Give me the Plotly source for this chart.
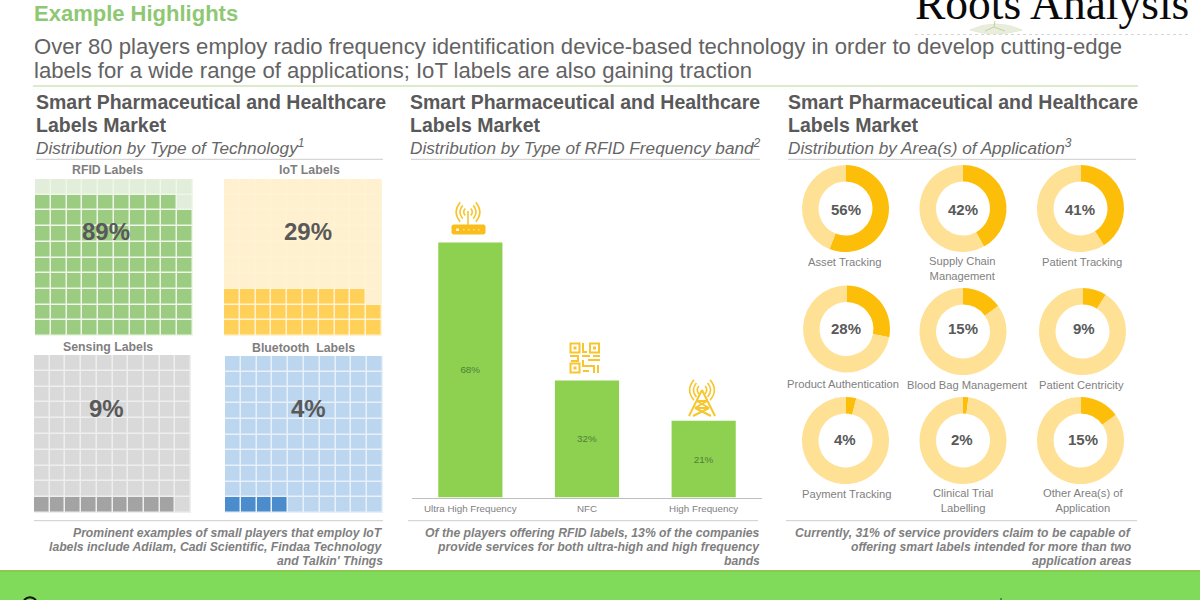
import plotly.graph_objects as go

# ---------- data ----------
waffle_names = ["RFID Labels", "IoT Labels", "Sensing Labels", "Bluetooth  Labels"]
waffle_values = [89, 29, 9, 4]

bar_categories = ["Ultra High Frequency", "NFC", "High Frequency"]
bar_heights = [69.7, 32, 21]
bar_labels = ["68%", "32%", "21%"]

donut_names = ["Asset Tracking", "Supply Chain<br>Management", "Patient Tracking",
               "Product Authentication", "Blood Bag Management", "Patient Centricity",
               "Payment Tracking", "Clinical Trial<br>Labelling", "Other Area(s) of<br>Application"]
donut_values = [56, 42, 41, 28, 15, 9, 4, 2, 15]

heading_lines = ["Smart Pharmaceutical and Healthcare", "Labels Market"]
column_subtitles = ["Distribution by Type of Technology<sup>1</sup>",
                    "Distribution by Type of RFID Frequency band<sup>2</sup>",
                    "Distribution by Area(s) of Application<sup>3</sup>"]
title_text = "Example Highlights"
intro_lines = ["Over 80 players employ radio frequency identification device-based technology in order to develop cutting-edge",
               "labels for a wide range of applications; IoT labels are also gaining traction"]
footnotes = [["Prominent examples of small players that employ IoT",
              "labels include Adilam, Cadi Scientific, Findaa Technology",
              "and Talkin' Things"],
             ["Of the players offering RFID labels, 13% of the companies",
              "provide services for both ultra-high and high frequency",
              "bands"],
             ["Currently, 31% of service providers claim to be capable of",
              "offering smart labels intended for more than two",
              "application areas"]]

# ---------- layout helpers (pixel -> paper) ----------
W, H = 1200, 600
FONT = "Liberation Sans"
GOLD = "#F7C62F"
px = lambda x: x / W
py = lambda y: 1 - y / H
P = lambda x, y: f"{px(x):.5f},{py(y):.5f}"

shapes, annotations = [], []


def txt(x, y, s, size, color="#595959", anchor="left", family=FONT, va="middle"):
    annotations.append(dict(x=px(x), y=py(y), xref="paper", yref="paper", text=s, showarrow=False,
                            xanchor=anchor, yanchor=va, align=anchor, borderpad=0, borderwidth=0,
                            font=dict(family=family, size=size, color=color)))


def line(x0, y0, x1, y1, color, width=1, dash="solid"):
    shapes.append(dict(type="line", xref="paper", yref="paper", x0=px(x0), y0=py(y0), x1=px(x1), y1=py(y1),
                       line=dict(color=color, width=width, dash=dash)))


def rect(x0, y0, x1, y1, color, layer="above", lw=0, fill=True):
    shapes.append(dict(type="rect", xref="paper", yref="paper", x0=px(x0), y0=py(y0), x1=px(x1), y1=py(y1),
                       fillcolor=color if fill else "rgba(0,0,0,0)", layer=layer,
                       line=dict(width=lw, color=color)))


def path(d, stroke=GOLD, width=1.6, fill=None):
    shapes.append(dict(type="path", xref="paper", yref="paper", path=d,
                       fillcolor=fill or "rgba(0,0,0,0)", line=dict(color=stroke, width=width)))


def waves(cx, cy, radii, half=11):
    for r in radii:
        for s in (-1, 1):
            path(f"M{P(cx + s * r * 0.62, cy - r * 0.78)} Q{P(cx + s * r * 1.28, cy)} {P(cx + s * r * 0.62, cy + r * 0.78)}")


fig = go.Figure()

# ---------- waffles ----------
waffle_boxes = [(35, 179, 193, 336), (224, 179, 382, 336), (34, 355, 191, 513), (225, 356, 383, 513)]
waffle_colors = [("#E2EEDA", "#9CCB82", "#EFF7E8"), ("#FFF1CF", "#FFD158", "#FFF3D6"),
                 ("#D9D9D9", "#A3A3A3", "#EEEEEE"), ("#BBD6EE", "#4A8CCC", "#E8F1F9")]
waffle_text_pos = [(106, 231), (308, 231), (106, 408), (308, 408)]
waffle_name_pos = [(107, 170), (309, 170), (108, 347), (303, 348)]

for i, (name, val) in enumerate(zip(waffle_names, waffle_values)):
    x0, y0, x1, y1 = waffle_boxes[i]
    light, dark, gap = waffle_colors[i]
    rect(x0, y0, x1, y1, gap, layer="below")
    z = [[1 if r * 10 + c < val else 0 for c in range(10)] for r in range(10)]
    n = i + 1
    fig.add_trace(go.Heatmap(z=z, x=list(range(10)), y=list(range(10)), zmin=0, zmax=1, xgap=1.5, ygap=1.5,
                             colorscale=[[0, light], [1, dark]], showscale=False, hoverinfo="skip",
                             xaxis=f"x{n}", yaxis=f"y{n}"))
    txt(*waffle_name_pos[i], f"<b>{name}</b>", 12.3, "#7F7F7F", "center")
    txt(*waffle_text_pos[i], f"<b>{val}%</b>", 24, "#595959", "center")

layout_axes = {}
for i, (x0, y0, x1, y1) in enumerate(waffle_boxes):
    s = "" if i == 0 else str(i + 1)
    layout_axes[f"xaxis{s}"] = dict(domain=[px(x0), px(x1)], range=[-0.5, 9.5], visible=False, anchor=f"y{s}", fixedrange=True)
    layout_axes[f"yaxis{s}"] = dict(domain=[py(y1), py(y0)], range=[-0.5, 9.5], visible=False, anchor=f"x{s}", fixedrange=True)

# ---------- bars ----------
fig.add_trace(go.Bar(x=bar_categories, y=bar_heights, text=bar_labels, textposition="inside",
                     insidetextanchor="middle", textangle=0, constraintext="none",
                     textfont=dict(family=FONT, size=9.8, color="#4F7F3A"),
                     marker=dict(color="#8ED04F", line=dict(width=0)), width=0.55,
                     hoverinfo="skip", xaxis="x5", yaxis="y5"))
layout_axes["xaxis5"] = dict(domain=[px(412), px(762)], anchor="y5", type="category", showline=True, linecolor="#BFBFBF",
                             linewidth=1, ticks="", tickfont=dict(family=FONT, size=9.8, color="#7F7F7F"), fixedrange=True,
                             ticklabelstandoff=2)
layout_axes["yaxis5"] = dict(domain=[py(497.5), py(497.5 - 72 * 3.66)], range=[0, 72], visible=False, anchor="x5", fixedrange=True)

# ---------- donuts ----------
donut_centers = [(845.5, 208.5), (963, 208.5), (1080.5, 208.5),
                 (846.5, 329), (963, 331.5), (1082.5, 331.5),
                 (845.5, 440.5), (963, 440.5), (1080.5, 440.5)]
donut_text_pos = [(845.5, 209), (963, 209), (1080, 209), (846, 328), (963, 328), (1084, 328),
                  (845, 440), (962, 440), (1083, 439)]
donut_name_pos = [(844, 262), (962, 268.5), (1082, 262), (843, 384), (967, 385), (1081, 385),
                  (847, 494), (963, 500.5), (1083, 500.5)]
R = 43.5
for i, (name, val) in enumerate(zip(donut_names, donut_values)):
    cx, cy = donut_centers[i]
    fig.add_trace(go.Pie(values=[val, 100 - val], sort=False, direction="clockwise", rotation=0, hole=0.62,
                         textinfo="none", hoverinfo="skip", showlegend=False,
                         marker=dict(colors=["#FDBE0A", "#FEE195"], line=dict(width=0)),
                         domain=dict(x=[px(cx - R), px(cx + R)], y=[py(cy + R), py(cy - R)])))
    txt(*donut_text_pos[i], f"<b>{val}%</b>", 15, "#595959", "center")
    txt(*donut_name_pos[i], name, 11.2, "#7F7F7F", "center")

# ---------- header ----------
txt(34, 14, f"<b>{title_text}</b>", 22, "#8FC873")
txt(34, 46.5, intro_lines[0], 22.1, "#636363")
txt(34, 70, intro_lines[1], 22.1, "#636363")
line(33, 86, 1138, 86, "#BCD79A", 1.2)

txt(915, 29, "Roots Analysis", 45.5, "#0A0A0A", family="Liberation Serif", va="bottom")
line(915, 34.5, 1190, 34.5, "#D5D5D5", 1, "dot")
path(f"M{P(970, 30)} Q{P(995, 18)} {P(1022, 30)} Q{P(995, 38)} {P(970, 30)} Z", stroke="#E4EBD5", width=1, fill="#E8EEDB")
path(f"M{P(995, 21)} L{P(994, 27)} M{P(994, 27)} L{P(985, 31)} M{P(994, 27)} L{P(1005, 31)}", stroke="#C4CFA8", width=1)

for x, rx0, rx1, sub in zip((36, 410, 788), (36, 411, 788), (383, 760, 1136), column_subtitles):
    txt(x, 102, f"<b>{heading_lines[0]}</b>", 19.5)
    txt(x, 125, f"<b>{heading_lines[1]}</b>", 19.5)
    txt(x, 146.5, f"<i>{sub}</i>", 17.2, "#666666")
    line(rx0, 159.3, rx1, 159.3, "#BFBFBF", 0.8)

# ---------- footnotes ----------
for (rx0, rx1, right), note in zip(((34, 383, 383), (408, 758, 760), (786, 1137, 1132)), footnotes):
    line(rx0, 520.7, rx1, 520.7, "#BFBFBF", 0.8)
    for yy, t in zip((532.5, 547, 561), note):
        txt(right, yy, f"<b><i>{t}</i></b>", 12.2, "#7F7F7F", "right")

# ---------- icons ----------
# router
path(f"M{P(453, 225)} L{P(484, 225)} L{P(485, 226)} L{P(485, 233)} L{P(484, 234)} L{P(453, 234)} L{P(452, 233)} L{P(452, 226)} Z",
     stroke="#F9BE1B", width=1, fill="#F9BE1B")
line(468, 211, 468, 225, GOLD, 1.6)
waves(468, 212, (4.5, 8.5, 12.5))
rect(456, 228.5, 459, 231, "#FFF6D2")
for xx in (463, 468, 473, 478):
    rect(xx, 229, xx + 1.6, 230.6, "#FCE08A")

# QR
for (qx, qy) in ((570.5, 343.5), (590, 343.5), (570.5, 363.5)):
    rect(qx, qy, qx + 9, qy + 9, GOLD, lw=2, fill=False)
    rect(qx + 3, qy + 3, qx + 6, qy + 6, GOLD)
path(f"M{P(583, 343)} L{P(583, 352)} L{P(587, 352)} M{P(570, 356)} L{P(578, 356)} L{P(578, 361)} L{P(571, 361)} "
     f"M{P(582, 356)} L{P(590, 356)} M{P(593, 356)} L{P(600, 356)} M{P(583, 360)} L{P(583, 366)} L{P(594, 366)} L{P(594, 373)} "
     f"M{P(588, 360)} L{P(600, 360)} M{P(583, 371)} L{P(589, 371)} M{P(598, 365)} L{P(598, 373)}", stroke=GOLD, width=2)

# tower
path(f"M{P(702, 390)} L{P(689, 416)} M{P(702, 390)} L{P(715, 416)} M{P(697, 401)} L{P(707, 401)} "
     f"M{P(697, 401)} L{P(709, 408)} M{P(707, 401)} L{P(695, 408)} M{P(695, 408)} L{P(709, 408)} "
     f"M{P(695, 408)} L{P(711, 416)} M{P(709, 408)} L{P(693, 416)}", stroke=GOLD, width=2)
waves(702, 390, (5, 9, 13))

# ---------- footer band ----------
rect(0, 570, 1200, 600, "#80DB5A")
rect(0, 570, 1200, 572, "#8CC850")
path(f"M{P(24, 600)} Q{P(30, 594.5)} {P(36, 600)}", stroke="#111111", width=2)
line(1001, 598, 1001, 600, "#333333", 1)

fig.update_layout(width=W, height=H, margin=dict(l=0, r=0, t=0, b=0), paper_bgcolor="white", plot_bgcolor="rgba(0,0,0,0)",
                  showlegend=False, shapes=shapes, annotations=annotations, bargap=0.45, **layout_axes)
fig.write_html("out.html", config={"displayModeBar": False},
               post_script="document.body.style.margin='0';document.body.style.overflow='hidden';")
